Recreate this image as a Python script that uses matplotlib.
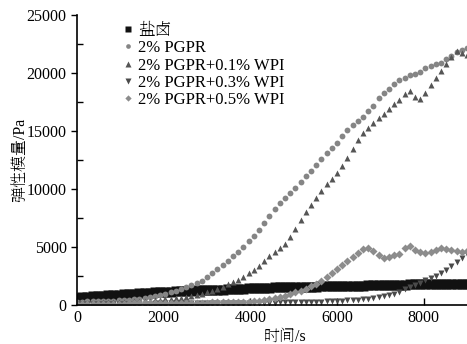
import numpy as np
import matplotlib.pyplot as plt
from matplotlib.ticker import MultipleLocator

# sampling grid of the rheometer (s)
time_s = np.arange(0, 9001, 120)

brine = [650, 690, 730, 770, 800, 830, 860, 890, 915, 940,
         980, 1000, 1025, 1050, 1075, 1100, 1125, 1150, 1170, 1190,
         1210, 1230, 1250, 1265, 1280, 1295, 1310, 1325, 1340, 1360,
         1380, 1400, 1420, 1440, 1460, 1480, 1495, 1510, 1520, 1530,
         1540, 1550, 1560, 1570, 1580, 1590, 1600, 1610, 1620, 1630,
         1640, 1650, 1660, 1670, 1680, 1690, 1700, 1710, 1720, 1730,
         1740, 1750, 1760, 1770, 1780, 1790, 1800, 1805, 1810, 1815,
         1820, 1825, 1830, 1835, 1840, 1845]

pgpr = [300, 310, 320, 330, 340, 350, 370, 390, 410, 440,
        470, 510, 560, 610, 690, 780, 880, 1000, 1120, 1250,
        1400, 1550, 1720, 1900, 2100, 2400, 2800, 3100, 3450, 3800,
        4200, 4600, 5000, 5500, 6000, 6500, 7100, 7700, 8300, 8800,
        9200, 9700, 10100, 10600, 11100, 11600, 12100, 12600, 13100, 13550,
        14000, 14600, 15100, 15500, 15850, 16250, 16700, 17200, 17850, 18250,
        18650, 19050, 19400, 19600, 19800, 19950, 20100, 20450, 20600, 20750,
        20900, 21200, 21500, 21800, 22000, 22200]

wpi_01 = [200, 200, 210, 210, 220, 230, 240, 250, 260, 280,
          300, 320, 340, 360, 390, 420, 450, 490, 530, 580,
          640, 700, 780, 870, 970, 1100, 1250, 1420, 1600, 1800,
          2000, 2200, 2450, 2750, 3050, 3400, 3800, 4200, 4550, 4900,
          5300, 5900, 6600, 7300, 8000, 8600, 9200, 9800, 10400, 10900,
          11400, 12000, 12700, 13500, 14200, 14800, 15300, 15700, 16100, 16500,
          16900, 17300, 17700, 18200, 18500, 17900, 17800, 18300, 19000, 19600,
          20200, 20800, 21400, 21900, 21700, 21600]

wpi_03 = [100, 100, 100, 110, 110, 110, 120, 120, 120, 130,
          130, 130, 140, 140, 140, 150, 150, 150, 160, 160,
          160, 170, 170, 170, 180, 180, 180, 190, 190, 190,
          200, 200, 200, 210, 210, 210, 220, 220, 220, 230,
          230, 240, 250, 260, 270, 280, 290, 300, 320, 340,
          360, 390, 420, 450, 480, 520, 560, 610, 670, 750,
          860, 980, 1150, 1350, 1550, 1750, 1950, 2150, 2350, 2550,
          2800, 3050, 3350, 3700, 4050, 4400]

wpi_05 = [100, 100, 110, 110, 120, 120, 130, 130, 140, 140,
          150, 150, 160, 160, 170, 170, 180, 180, 190, 190,
          200, 200, 210, 210, 220, 220, 230, 230, 240, 250,
          260, 270, 290, 310, 340, 380, 430, 500, 600, 710,
          830, 960, 1100, 1230, 1360, 1650, 1850, 2100, 2400, 2750,
          3100, 3450, 3800, 4150, 4500, 4800, 4900, 4700, 4300, 4050,
          4150, 4300, 4450, 4900, 5100, 4750, 4600, 4500, 4600, 4750,
          4900, 4850, 4750, 4700, 4600, 4650]

labels = ['盐卤', '2% PGPR', '2% PGPR+0.1% WPI', '2% PGPR+0.3% WPI', '2% PGPR+0.5% WPI']

fonts = ['Liberation Serif', 'Noto Serif SC']
plt.rcParams['font.family'] = fonts
plt.rcParams['font.size'] = 11.5

fig = plt.figure(figsize=(4.67, 3.44), dpi=100)
ax = fig.add_axes([0.165, 0.113, 0.835, 0.843])

ax.plot(time_s, brine, 's', color='#111111', ms=7, mec='none', label=labels[0])
ax.plot(time_s, pgpr, 'o', color='#858585', ms=4.2, mec='none', label=labels[1])
ax.plot(time_s, wpi_01, '^', color='#555555', ms=5, mec='none', label=labels[2])
ax.plot(time_s, wpi_03, 'v', color='#4a4a4a', ms=5, mec='none', label=labels[3])
ax.plot(time_s, wpi_05, 'D', color='#8c8c8c', ms=4, mec='none', label=labels[4])

ax.set_xlim(0, 9000)
ax.set_ylim(0, 25000)
ax.xaxis.set_major_locator(MultipleLocator(2000))
ax.yaxis.set_major_locator(MultipleLocator(5000))
ax.yaxis.set_minor_locator(MultipleLocator(2500))
ax.tick_params(axis='x', which='major', direction='in', length=5, width=1)
ax.tick_params(axis='y', which='major', direction='out', length=4, width=1)
ax.tick_params(axis='y', which='minor', direction='in', length=4, width=1)

for side in ['top', 'right']:
    ax.spines[side].set_visible(False)
for side in ['left', 'bottom']:
    ax.spines[side].set_linewidth(1.2)

ax.set_ylabel('弹性模量/Pa', fontsize=11.5, labelpad=-1)
ax.set_xlabel('时间/s', fontsize=11.5, labelpad=0)
ax.xaxis.set_label_coords(0.533, -0.08)

leg = ax.legend(loc='upper left', bbox_to_anchor=(0.092, 0.996), frameon=False,
                handletextpad=0.1, labelspacing=0.08, borderaxespad=0,
                handlelength=1.0, markerscale=0.8, fontsize=12)
leg.legend_handles[0].set_markersize(4.5)

fig.savefig('out.png', dpi=100)
